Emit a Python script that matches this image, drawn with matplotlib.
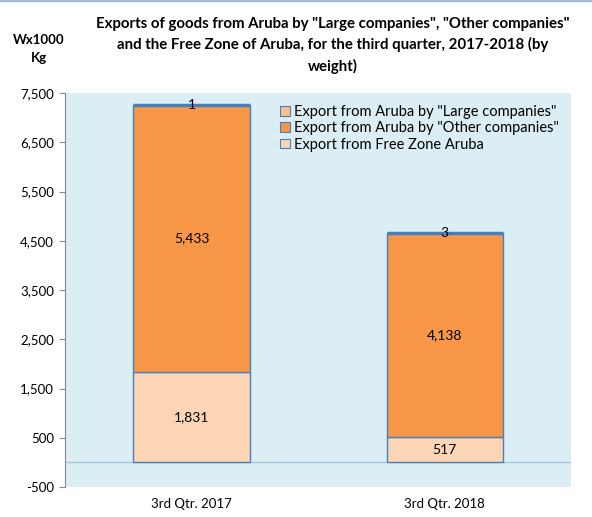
import matplotlib.pyplot as plt
from matplotlib.patches import Rectangle

plt.rcParams['font.family'] = ['Lato', 'DejaVu Sans']

# data
categories = ['3rd Qtr. 2017', '3rd Qtr. 2018']
free_zone = [1831, 517]
other_companies = [5433, 4138]
large_companies = [1, 3]
series_names = ['Export from Aruba by "Large companies"',
                'Export from Aruba by "Other companies"',
                'Export from Free Zone Aruba']
y_ticks = [-500, 500, 1500, 2500, 3500, 4500, 5500, 6500, 7500]

c_large = '#FAC090'
c_other = '#F79646'
c_free = '#FCD5B5'
edge = '#4A7EBB'

fig = plt.figure(figsize=(5.92, 5.17), dpi=100)
ax = fig.add_axes([0.110, 0.058, 0.855, 0.762])
ax.set_facecolor('#DAEEF3')

x = range(len(categories))
w = 0.46
ax.bar(x, free_zone, w, color=c_free, edgecolor=edge, linewidth=1.0, zorder=3)
ax.bar(x, other_companies, w, bottom=free_zone, color=c_other,
       edgecolor=edge, linewidth=1.0, zorder=3)
tops = [a + b for a, b in zip(free_zone, other_companies)]
ax.bar(x, large_companies, w, bottom=tops, color=c_large,
       edgecolor=edge, linewidth=2.5, zorder=3)

# 数据标签
for i in x:
    ax.text(i, free_zone[i] / 2, f'{free_zone[i]:,}', ha='center', va='center', fontsize=10)
    ax.text(i, free_zone[i] + other_companies[i] / 2, f'{other_companies[i]:,}',
            ha='center', va='center', fontsize=10)
    ax.text(i, tops[i] + large_companies[i], f'{large_companies[i]:,}',
            ha='center', va='center', fontsize=10, zorder=4)

ax.axhline(0, color='#A6C8DE', linewidth=1, zorder=2)

ax.set_ylim(-500, 7500)
ax.set_xlim(-0.5, 1.5)
ax.set_yticks(y_ticks)
ax.set_yticklabels([f'{v:,}' for v in y_ticks], fontsize=9.5)
ax.set_xticks(list(x))
ax.set_xticklabels(categories, fontsize=9.5)
ax.tick_params(axis='x', length=0, pad=8)
ax.tick_params(axis='y', length=4, color='#888888', pad=4)
for s in ['top', 'right', 'bottom']:
    ax.spines[s].set_visible(False)
ax.spines['left'].set_color('#888888')

handles = [Rectangle((0, 0), 1, 1, facecolor=c, edgecolor=edge, linewidth=0.8)
           for c in [c_large, c_other, c_free]]
ax.legend(handles, series_names, loc='upper left', bbox_to_anchor=(0.405, 0.995),
          frameon=False, fontsize=10.5, handlelength=0.65, handleheight=0.65,
          handletextpad=0.3, labelspacing=0.15, borderaxespad=0.3)

fig.text(0.562, 0.968, 'Exports of goods from Aruba by "Large companies", "Other companies"\n'
         'and the Free Zone of Aruba, for the third quarter, 2017-2018 (by\nweight)',
         ha='center', va='top', fontsize=10.8, fontweight='bold', linespacing=1.55)
fig.text(0.065, 0.935, 'Wx1000\nKg', ha='center', va='top', fontsize=9.5,
         fontweight='bold', linespacing=1.6)

fig.patches.append(Rectangle((0, 0.998), 1, 0.002, transform=fig.transFigure,
                             color='#9DBEDB'))

fig.savefig('out.png', dpi=100)
